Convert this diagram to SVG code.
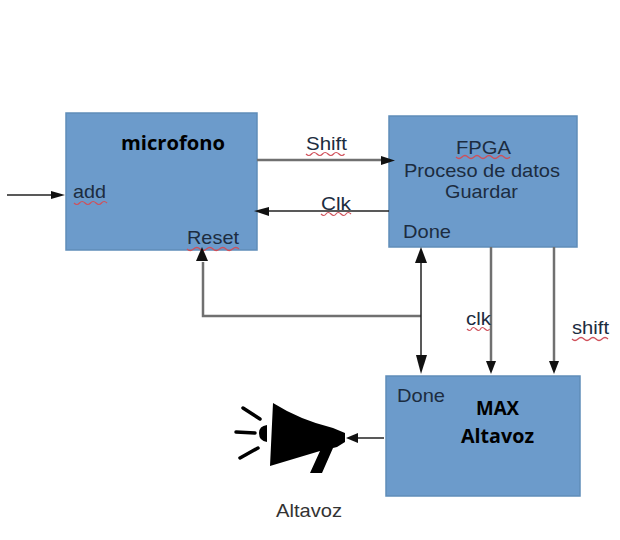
<svg xmlns="http://www.w3.org/2000/svg" width="620" height="540" viewBox="0 0 620 540">
<style>
.box{fill:#6c9bcb;stroke:#5f8db9;stroke-width:1.5}
.t{font-family:"Liberation Sans",Arial,sans-serif;font-size:19px;fill:#1c2c40}
.d{fill:#333}
.b{font-family:"Open Sans","Noto Sans",sans-serif;font-weight:700;fill:#000;font-size:19px}
.c{fill:none;stroke:#707070;stroke-width:2.500}
.k{fill:none;stroke:#222;stroke-width:1.500}
.w{fill:none;stroke:#d0505a;stroke-width:1.200}
.a{fill:#111}
</style>
<rect width="620" height="540" fill="#fff"/>
<g id="microfono">
<rect class="box" x="66" y="113" width="191" height="137"/>
<text class="b" x="121" y="150" textLength="104" lengthAdjust="spacingAndGlyphs">microfono</text>
<text class="t" x="73" y="198" textLength="33" lengthAdjust="spacingAndGlyphs">add</text>
<path class="w" d="M74 203q3 3 5.500 0t5.500 0t5.500 0t5.500 0t5.500 0t5.500 0"/>
<text class="t" x="187" y="244" textLength="52" lengthAdjust="spacingAndGlyphs">Reset</text>
<path class="w" d="M187 249q3 3 6.500 0t6.500 0t6.500 0t6.500 0t6.500 0t6.500 0t6.500 0t6.500 0"/>
</g>
<g id="fpga">
<rect class="box" x="389" y="116" width="188" height="131"/>
<text class="t" x="456" y="154" textLength="55" lengthAdjust="spacingAndGlyphs">FPGA</text>
<path class="w" d="M456 157q3 3 6 0t6 0t6 0t6 0t6 0t6 0t6 0t6 0t6 0"/>
<text class="t" x="404" y="177" textLength="156" lengthAdjust="spacingAndGlyphs">Proceso de datos</text>
<text class="t" x="445" y="198" textLength="73" lengthAdjust="spacingAndGlyphs">Guardar</text>
<text class="t" x="403" y="238" textLength="48" lengthAdjust="spacingAndGlyphs">Done</text>
</g>
<g id="max">
<rect class="box" x="386" y="376" width="194" height="120"/>
<text class="t" x="397" y="402" textLength="48" lengthAdjust="spacingAndGlyphs">Done</text>
<text class="b" x="476" y="415" textLength="43" lengthAdjust="spacingAndGlyphs">MAX</text>
<text class="b" x="461" y="443" textLength="73" lengthAdjust="spacingAndGlyphs">Altavoz</text>
</g>
<g id="altavoz">
<path fill="#000" d="M273 403Q300 420 333 428L345 433V442L337 447L333 448L322 473H310L320 451L270 466Z"/>
<path fill="#000" d="M267 425Q259 426 259 433Q259 441 267 442Z"/>
<path fill="none" stroke="#000" stroke-width="3.500" stroke-linecap="round" d="M243 408L260 419M236 432L255 433M240 458L258 448"/>
<text class="t" x="276" y="517" textLength="66" lengthAdjust="spacingAndGlyphs" style="fill:#333">Altavoz</text>
</g>
<g id="connectors">
<path class="k" d="M7 195H54"/><path class="a" d="M51 191L65 195L51 199Z"/>
<path class="c" d="M257 160H385"/><path class="a" d="M381 156L395 160.500L381 165Z"/>
<path class="k" d="M389 211H265"/><path class="a" d="M269 207L254 211L269 216Z"/>
<path class="c" d="M421 316H203V262"/><path class="a" d="M196 261L202 247L208 261Z"/>
<path class="k" d="M421 262V362"/><path class="a" d="M415 263L421 247L427 263Z"/><path class="a" d="M416 355L421 374L427 355Z"/>
<path class="c" d="M491 247V364"/><path class="a" d="M486 361L491 374L496 361Z"/>
<path class="c" d="M554 247V364"/><path class="a" d="M549 361L554 374L559 361Z"/>
<path class="k" d="M384 438H355"/><path class="a" d="M358 433L346 438L358 443Z"/>
</g>
<g id="labels">
<text class="t" x="306" y="150" textLength="41" lengthAdjust="spacingAndGlyphs">Shift</text>
<path class="w" d="M306 154q3 3 5.500 0t5.500 0t5.500 0t5.500 0t5.500 0t5.500 0t5.500 0"/>
<text class="t" x="321" y="210" textLength="30" lengthAdjust="spacingAndGlyphs">Clk</text>
<path class="w" d="M321 214q3 3 5 0t5 0t5 0t5 0t5 0t5 0"/>
<text class="t" x="466" y="325" textLength="25" lengthAdjust="spacingAndGlyphs">clk</text>
<path class="w" d="M467 329q3 3 4.500 0t4.500 0t4.500 0t4.500 0t4.500 0"/>
<text class="t" x="572" y="334" textLength="37" lengthAdjust="spacingAndGlyphs">shift</text>
<path class="w" d="M572 339q3 3 6 0t6 0t6 0t6 0t6 0t6 0"/>
</g>
</svg>
